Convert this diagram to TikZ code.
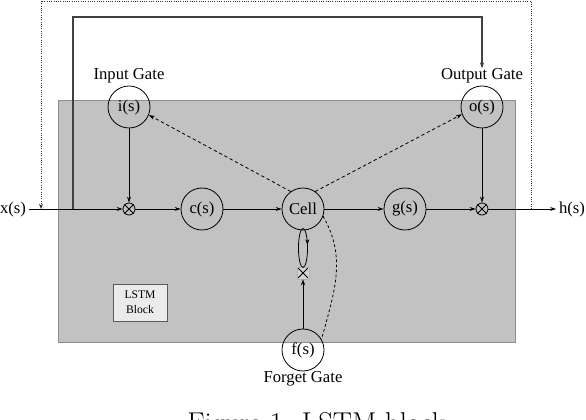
\documentclass[tikz,border=0pt]{standalone}
\usepackage{fontspec}
\newfontfamily\timesfont{Liberation Serif}
\usetikzlibrary{arrows.meta,calc,decorations.markings,positioning}
\tikzset{%
	gate/.style      = {draw, circle, line width=0.6pt, minimum size=31.5pt, inner sep=0pt, font=\timesfont\fontsize{12.5}{14}\selectfont},
	mult/.style      = {draw, circle, line width=0.6pt, minimum size=9pt, inner sep=0pt},
	gatelabel/.style = {inner sep=0pt, font=\timesfont\fontsize{12.5}{14}\selectfont},
	signal/.style    = {inner sep=2pt, font=\timesfont\fontsize{12.5}{14}\selectfont},
	arrow/.style     = {line width=0.6pt, -{Stealth[length=4.5pt,width=3pt]}},
	peephole/.style  = {arrow, dash pattern=on 2.5pt off 2pt},
}
\begin{document}
\begin{tikzpicture}[x=0.75pt,y=-0.75pt]
	\useasboundingbox (0,0) rectangle (586,420);
	\filldraw[fill=black!24, draw=black!45] (58,100) rectangle (515,342);
	\node[draw=black!65, fill=black!8, minimum width=40.5pt, minimum height=27.75pt, align=center, font=\timesfont\fontsize{8.7}{11.25}\selectfont] (block) at (140,302.5) {LSTM\\Block};

	\node[signal] (xs) at (13,209) {x(s)};
	\node[mult] (m1) at (129,209) {};
	\node[gate] (cs) at (202,209) {c(s)};
	\node[gate] (cell) at (303,209) {Cell};
	\node[gate] (gs) at (405,209) {g(s)};
	\node[mult] (m2) at (482,209) {};
	\node[signal] (hs) at (572,209) {h(s)};
	\node[gate] (is) at (129,107) {i(s)};
	\node[gate] (os) at (482,107) {o(s)};
	\node[gate] (fs) at (303,350) {f(s)};
	\node[gatelabel, above=1.5pt of is] (isl) {Input Gate};
	\node[gatelabel, above=1.5pt of os] (osl) {Output Gate};
	\node[gatelabel, below=0pt of fs] (fsl) {Forget Gate};
	\node[draw=black!30, fill=black!17, minimum size=9pt, inner sep=0pt] (fx) at (303,273) {};

	\foreach \m in {m1,m2}
		\draw[line width=0.6pt] (\m.45) -- (\m.225) (\m.135) -- (\m.315);
	\draw[line width=0.6pt] ($(fx.north west)!0.12!(fx.south east)$) -- ($(fx.south east)!0.12!(fx.north west)$)
		($(fx.north east)!0.12!(fx.south west)$) -- ($(fx.south west)!0.12!(fx.north east)$);

	% feedback paths
	\coordinate (fbr) at (531,209);
	\coordinate (fbtop) at (41,1);
	\coordinate (fbl) at (41,209);
	\draw[line width=0.7pt, black!80, densely dotted, -{Stealth[length=4pt,width=3pt]}] (fbr) |- (fbtop) -- (fbl);
	\coordinate (tap) at (73,209);
	\coordinate (ctop) at (73,17);
	\draw[arrow, line width=0.9pt, black!75] (tap) -- (ctop) -| (osl.north);

	\draw[arrow] (xs) -- (m1);
	\draw[arrow] (m1) -- (cs);
	\draw[arrow] (cs) -- (cell);
	\draw[arrow] (cell) -- (gs);
	\draw[arrow] (gs) -- (m2);
	\draw[arrow] (m2) -- (hs);
	\draw[arrow] (is) -- (m1);
	\draw[arrow] (os) -- (m2);
	\draw[arrow] (fs) -- (fx);
	\draw[peephole] (cell.125) -- (is.-22);
	\draw[peephole] (cell.55) -- (os.200);
	\draw[line width=0.6pt, dash pattern=on 2pt off 1.8pt] (cell.-20) to[out=-60,in=75] (fs.30);
	\draw[line width=0.6pt, postaction={decorate}, decoration={markings, mark=at position 0.04 with {\arrowreversed{Stealth[length=4pt,width=3pt]}}}]
		(303,248) ellipse [x radius=3.4pt, y radius=14.6pt];

	\node[anchor=base west, inner sep=0pt, font=\fontsize{21.5}{25}\selectfont] (caption) at (187,433) {Figure 1. LSTM block};
\end{tikzpicture}
\end{document}
